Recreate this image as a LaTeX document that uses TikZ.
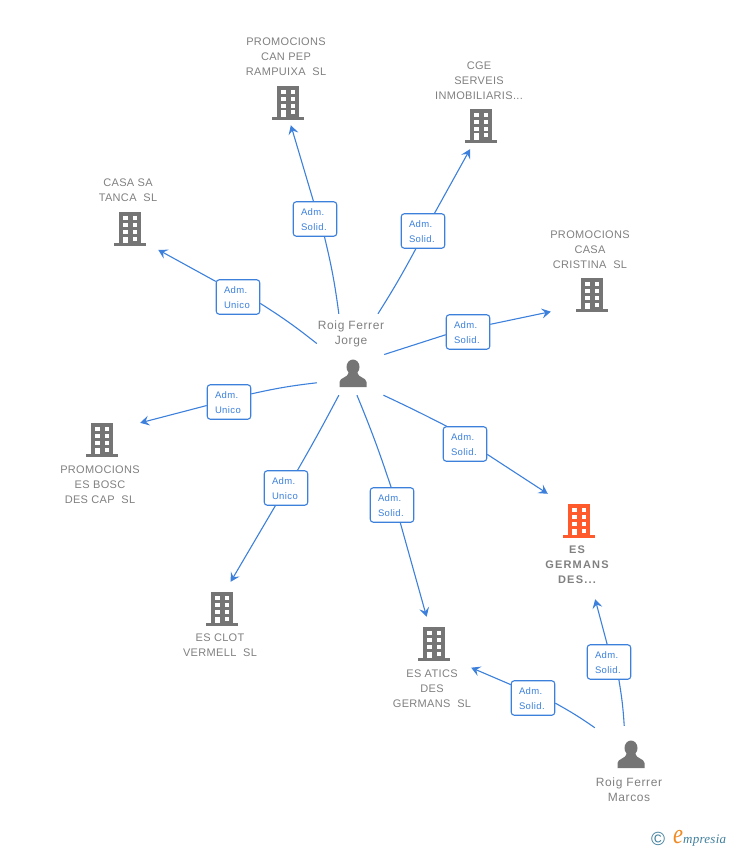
\documentclass[tikz,border=0pt]{standalone}
\usepackage{fontspec}
\setmainfont{Liberation Sans}
\newfontfamily\logofont{Liberation Serif}
\usetikzlibrary{arrows.meta}
\definecolor{linkblue}{HTML}{3C80DC}
\definecolor{textgray}{HTML}{808080}
\definecolor{icongray}{HTML}{757575}
\definecolor{iconorange}{HTML}{FF5A2B}
\definecolor{logoteal}{HTML}{3F7F9C}
\definecolor{logoorange}{HTML}{F08A24}
\tikzset{
  tie/.style={line width=1.1pt, linkblue},
  link/.style={line width=1.1pt, linkblue, ->, >={Stealth[length=9pt,width=10pt,inset=3.5pt]}},
  rolebox/.style={draw=linkblue, line width=1.1pt, fill=white, rounded corners=3pt, minimum width=43.5pt, minimum height=34.5pt, inner sep=0pt, text width=28pt, text height=9pt, align=left, text=linkblue, font=\addfontfeature{LetterSpace=4}\fontsize{9.5}{15}\selectfont},
  spotbox/.style={inner sep=0pt, minimum width=#1},
  company/.style={text=textgray, align=center, inner sep=0pt, font=\addfontfeature{LetterSpace=3}\fontsize{11}{15}\selectfont},
  mainco/.style={text=textgray, align=center, inner sep=0pt, font=\addfontfeature{LetterSpace=11}\bfseries\fontsize{11}{15}\selectfont},
  personname/.style={text=textgray, align=center, inner sep=0pt, font=\addfontfeature{LetterSpace=5}\fontsize{12}{15}\selectfont},
  pics/building/.style={code={
    \fill[#1] (-11,-17) rectangle (11,14);
    \fill[#1] (-16,14) rectangle (16,17);
    \foreach \wy in {-13,-6,1} {
      \fill[white] (-7.5,\wy) rectangle (-2.5,\wy+4);
      \fill[white] (2.5,\wy) rectangle (7,\wy+4);
    }
    \fill[white] (-7.5,7.5) rectangle (-2.5,14);
    \fill[white] (2.5,7.5) rectangle (7,11.5);
  }},
  pics/person/.style={code={
    \fill[icongray] (0,-7) ellipse (6.5 and 7.5);
    \fill[icongray] (-13.5,13) -- (-13.5,8) .. controls (-13.5,3.5) and (-5,4) .. (-4,-2) -- (4,-2) .. controls (5,4) and (13.5,3.5) .. (13.5,8) -- (13.5,13) -- cycle;
  }}
}
\begin{document}
\begin{tikzpicture}[x=1pt,y=-1pt]
\useasboundingbox (0,0) rectangle (728,850);
%%% The two people, each node spans the icon and the name
\node[spotbox=67pt, minimum height=81pt] (jorge) at (350.5,354.5) {};
\node[spotbox=67pt, minimum height=81pt] (marcos) at (628.5,766.5) {};
\pic at (353,374) {person};
\pic at (631,755) {person};
\node[personname] (jorgename) at (351,334) {Roig Ferrer\\Jorge};
\node[personname] (marcosname) at (629,790) {Roig Ferrer\\Marcos};
%%% The companies, same thing
\node[spotbox=80pt, minimum height=92pt] (canpep) at (286,79) {};
\node[spotbox=90pt, minimum height=92pt] (cge) at (479,103) {};
\node[spotbox=60pt, minimum height=75pt] (casasa) at (128,212.5) {};
\node[spotbox=80pt, minimum height=88pt] (cristina) at (591,270) {};
\node[spotbox=80pt, minimum height=85pt] (bosc) at (100,464.5) {};
\node[spotbox=64pt, minimum height=105pt] (germans) at (577,546.5) {};
\node[spotbox=76pt, minimum height=79pt] (clot) at (220,621.5) {};
\node[spotbox=79pt, minimum height=93pt] (atics) at (431.5,663.5) {};
\foreach \x/\y/\col in {288/103/icongray, 481/126/icongray, 130/229/icongray, 592/295/icongray, 102/440/icongray, 579/521/iconorange, 222/609/icongray, 434/644/icongray} {
  \pic at (\x,\y) {building=\col};
}
\node[company] (canpepname) at (286,56.5) {PROMOCIONS\\CAN PEP\\RAMPUIXA\ \ SL};
\node[company] (cgename) at (479,80.5) {CGE\\SERVEIS\\INMOBILIARIS...};
\node[company] (casasaname) at (128,190.5) {CASA SA\\TANCA\ \ SL};
\node[company] (cristinaname) at (590,249.5) {PROMOCIONS\\CASA\\CRISTINA\ \ SL};
\node[company] (boscname) at (100,484.5) {PROMOCIONS\\ES BOSC\\DES CAP\ \ SL};
\node[mainco] (germansname) at (577,565) {ES\\GERMANS\\DES...};
\node[company] (clotname) at (220,645.5) {ES CLOT\\VERMELL\ \ SL};
\node[company] (aticsname) at (432,688.5) {ES ATICS\\DES\\GERMANS\ \ SL};
%%% The role boxes
\node[rolebox] (rolecanpep) at (315,219) {Adm.\\Solid.};
\node[rolebox] (rolecge) at (423,231) {Adm.\\Solid.};
\node[rolebox] (rolecasasa) at (238,297) {Adm.\\Unico};
\node[rolebox] (rolecristina) at (468,332) {Adm.\\Solid.};
\node[rolebox] (rolebosc) at (229,402) {Adm.\\Unico};
\node[rolebox] (roleclot) at (286,488) {Adm.\\Unico};
\node[rolebox] (roleatics) at (392,505) {Adm.\\Solid.};
\node[rolebox] (rolegermans) at (465,444) {Adm.\\Solid.};
\node[rolebox] (marcosgermans) at (609,662) {Adm.\\Solid.};
\node[rolebox] (marcosatics) at (533,698) {Adm.\\Solid.};
%%% Connectors, from the person to the box and on to the company
\draw[tie] (jorge.106.9) to[bend right=3] (rolecanpep.-62.3);
\draw[link] (rolecanpep.95.4) -- (canpep.-84.4);
\draw[tie] (jorge.56.6) to[bend right=2] (rolecge.-112.9);
\draw[link] (rolecge.57.4) -- (cge.-101.1);
\draw[tie] (jorge.162) to[bend right=3] (rolecasasa.-16);
\draw[link] (rolecasasa.145.2) -- (casasa.-51.6);
\draw[tie] (jorge.0.3) -- (rolecristina.187.8);
\draw[link] (rolecristina.19.3) -- (cristina.226.2);
\draw[tie] (jorge.220.3) to[bend right=3] (rolebosc.20.2);
\draw[link] (rolebosc.189.7) -- (bosc.46.7);
\draw[tie] (jorge.254.4) to[bend left=1] (roleclot.57);
\draw[link] (roleclot.239.5) -- (clot.75.8);
\draw[tie] (jorge.-81.3) to[bend left=2] (roleatics.93.3);
\draw[link] (roleatics.-65.2) -- (atics.96.8);
\draw[tie] (jorge.-51.7) to[bend left=1] (rolegermans.136.5);
\draw[link] (rolegermans.-25.9) -- (germans.119.5);
\draw[tie] (marcos.96.7) to[bend right=3] (marcosgermans.-61.3);
\draw[link] (marcosgermans.96.3) -- (germans.-71.9);
\draw[tie] (marcos.131.3) to[bend right=3] (marcosatics.-13.5);
\draw[link] (marcosatics.149.6) -- (atics.-6.8);
%%% The mark in the corner
\node[inner sep=0pt, text=logoteal, font=\fontsize{19}{19}\selectfont] (logoc) at (658,839) {\textcopyright};
\node[inner sep=0pt, text=logoorange, xscale=.8, transform shape, font=\logofont\itshape\fontsize{28}{28}\selectfont] (logoe) at (678,837) {e};
\node[inner sep=0pt, text=logoteal, anchor=west, font=\logofont\itshape\addfontfeature{LetterSpace=2}\fontsize{13}{13}\selectfont] (logotext) at (683,841) {mpresia};
\end{tikzpicture}
\end{document}
